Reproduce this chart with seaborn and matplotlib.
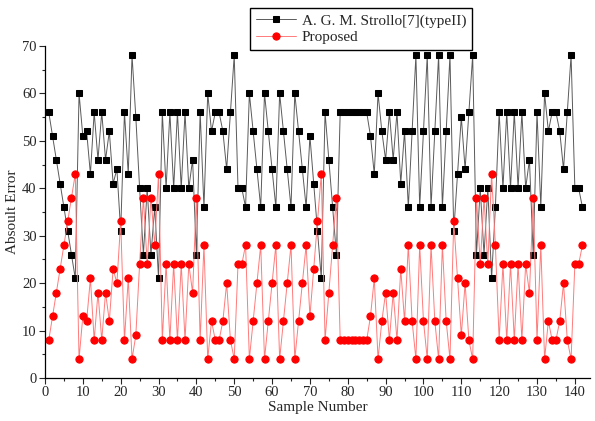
import matplotlib
matplotlib.use("Agg")
import matplotlib.pyplot as plt
from matplotlib.ticker import MultipleLocator
import seaborn as sns
import pandas as pd

# amostras 1..142
sample = list(range(1, 143))

strollo = [56, 51, 46, 41, 36, 31, 26, 21, 60, 51,
           52, 43, 56, 46, 56, 46, 52, 41, 44, 31,
           56, 43, 68, 55, 40, 26, 40, 26, 36, 21,
           56, 40, 56, 40, 56, 40, 56, 40, 46, 26,
           56, 36, 60, 52, 56, 56, 52, 44, 56, 68,
           40, 40, 36, 60, 52, 44, 36, 60, 52, 44,
           36, 60, 52, 44, 36, 60, 52, 44, 36, 51,
           41, 31, 21, 56, 46, 36, 26, 56, 56, 56,
           56, 56, 56, 56, 56, 51, 43, 60, 52, 46,
           56, 46, 56, 41, 52, 36, 52, 68, 36, 52,
           68, 36, 52, 68, 36, 52, 68, 31, 43, 55,
           44, 56, 68, 26, 40, 26, 40, 21, 36, 56,
           40, 56, 40, 56, 40, 56, 40, 46, 26, 56,
           36, 60, 52, 56, 56, 52, 44, 56, 68, 40,
           40, 36]

proposed = [8, 13, 18, 23, 28, 33, 38, 43, 4, 13,
            12, 21, 8, 18, 8, 18, 12, 23, 20, 33,
            8, 21, 4, 9, 24, 38, 24, 38, 28, 43,
            8, 24, 8, 24, 8, 24, 8, 24, 18, 38,
            8, 28, 4, 12, 8, 8, 12, 20, 8, 4,
            24, 24, 28, 4, 12, 20, 28, 4, 12, 20,
            28, 4, 12, 20, 28, 4, 12, 20, 28, 13,
            23, 33, 43, 8, 18, 28, 38, 8, 8, 8,
            8, 8, 8, 8, 8, 13, 21, 4, 12, 18,
            8, 18, 8, 23, 12, 28, 12, 4, 28, 12,
            4, 28, 12, 4, 28, 12, 4, 33, 21, 9,
            20, 8, 4, 38, 24, 38, 24, 43, 28, 8,
            24, 8, 24, 8, 24, 8, 24, 18, 38, 8,
            28, 4, 12, 8, 8, 12, 20, 8, 4, 24,
            24, 28]

erro = pd.DataFrame({"amostra": sample, "strollo": strollo, "proposto": proposed})

sns.set_style("ticks")
plt.rcParams['font.family'] = ['Liberation Serif', 'DejaVu Serif']

fig = plt.figure(figsize=(5.95, 4.21), dpi=100)
ax = fig.add_axes([0.0756, 0.102, 0.916, 0.789])

sns.lineplot(data=erro, x="amostra", y="strollo", ax=ax, estimator=None,
             color="#5a5a5a", linewidth=0.7, marker="s", markersize=4.3,
             markerfacecolor="black", markeredgecolor="black",
             label="A. G. M. Strollo[7](typeII)")
sns.lineplot(data=erro, x="amostra", y="proposto", ax=ax, estimator=None,
             color="#ff7b7b", linewidth=0.7, marker="o", markersize=5.2,
             markerfacecolor="red", markeredgecolor="red",
             label="Proposed")

ax.set_xlim(0, 144)
ax.set_ylim(0, 70)
ax.xaxis.set_major_locator(MultipleLocator(10))
ax.xaxis.set_minor_locator(MultipleLocator(5))
ax.yaxis.set_major_locator(MultipleLocator(10))
ax.yaxis.set_minor_locator(MultipleLocator(5))
ax.tick_params(which="major", direction="out", length=4, width=0.8, labelsize=10.5, pad=2)
ax.tick_params(which="minor", direction="out", length=2, width=0.8)
sns.despine(ax=ax)
for s in ["left", "bottom"]:
    ax.spines[s].set_linewidth(0.9)
    ax.spines[s].set_color("black")

ax.set_xlabel("Sample Number", fontsize=11, labelpad=1)
ax.set_ylabel("Absoult Error", fontsize=11, labelpad=2)

ax.legend(loc="upper left", bbox_to_anchor=(0.42, 0.981), bbox_transform=fig.transFigure,
          borderaxespad=0, fancybox=False, edgecolor="black", framealpha=1,
          fontsize=11, handlelength=2.6, borderpad=0.4, labelspacing=0.15, handletextpad=0.4)

fig.savefig("out.png", dpi=100)
